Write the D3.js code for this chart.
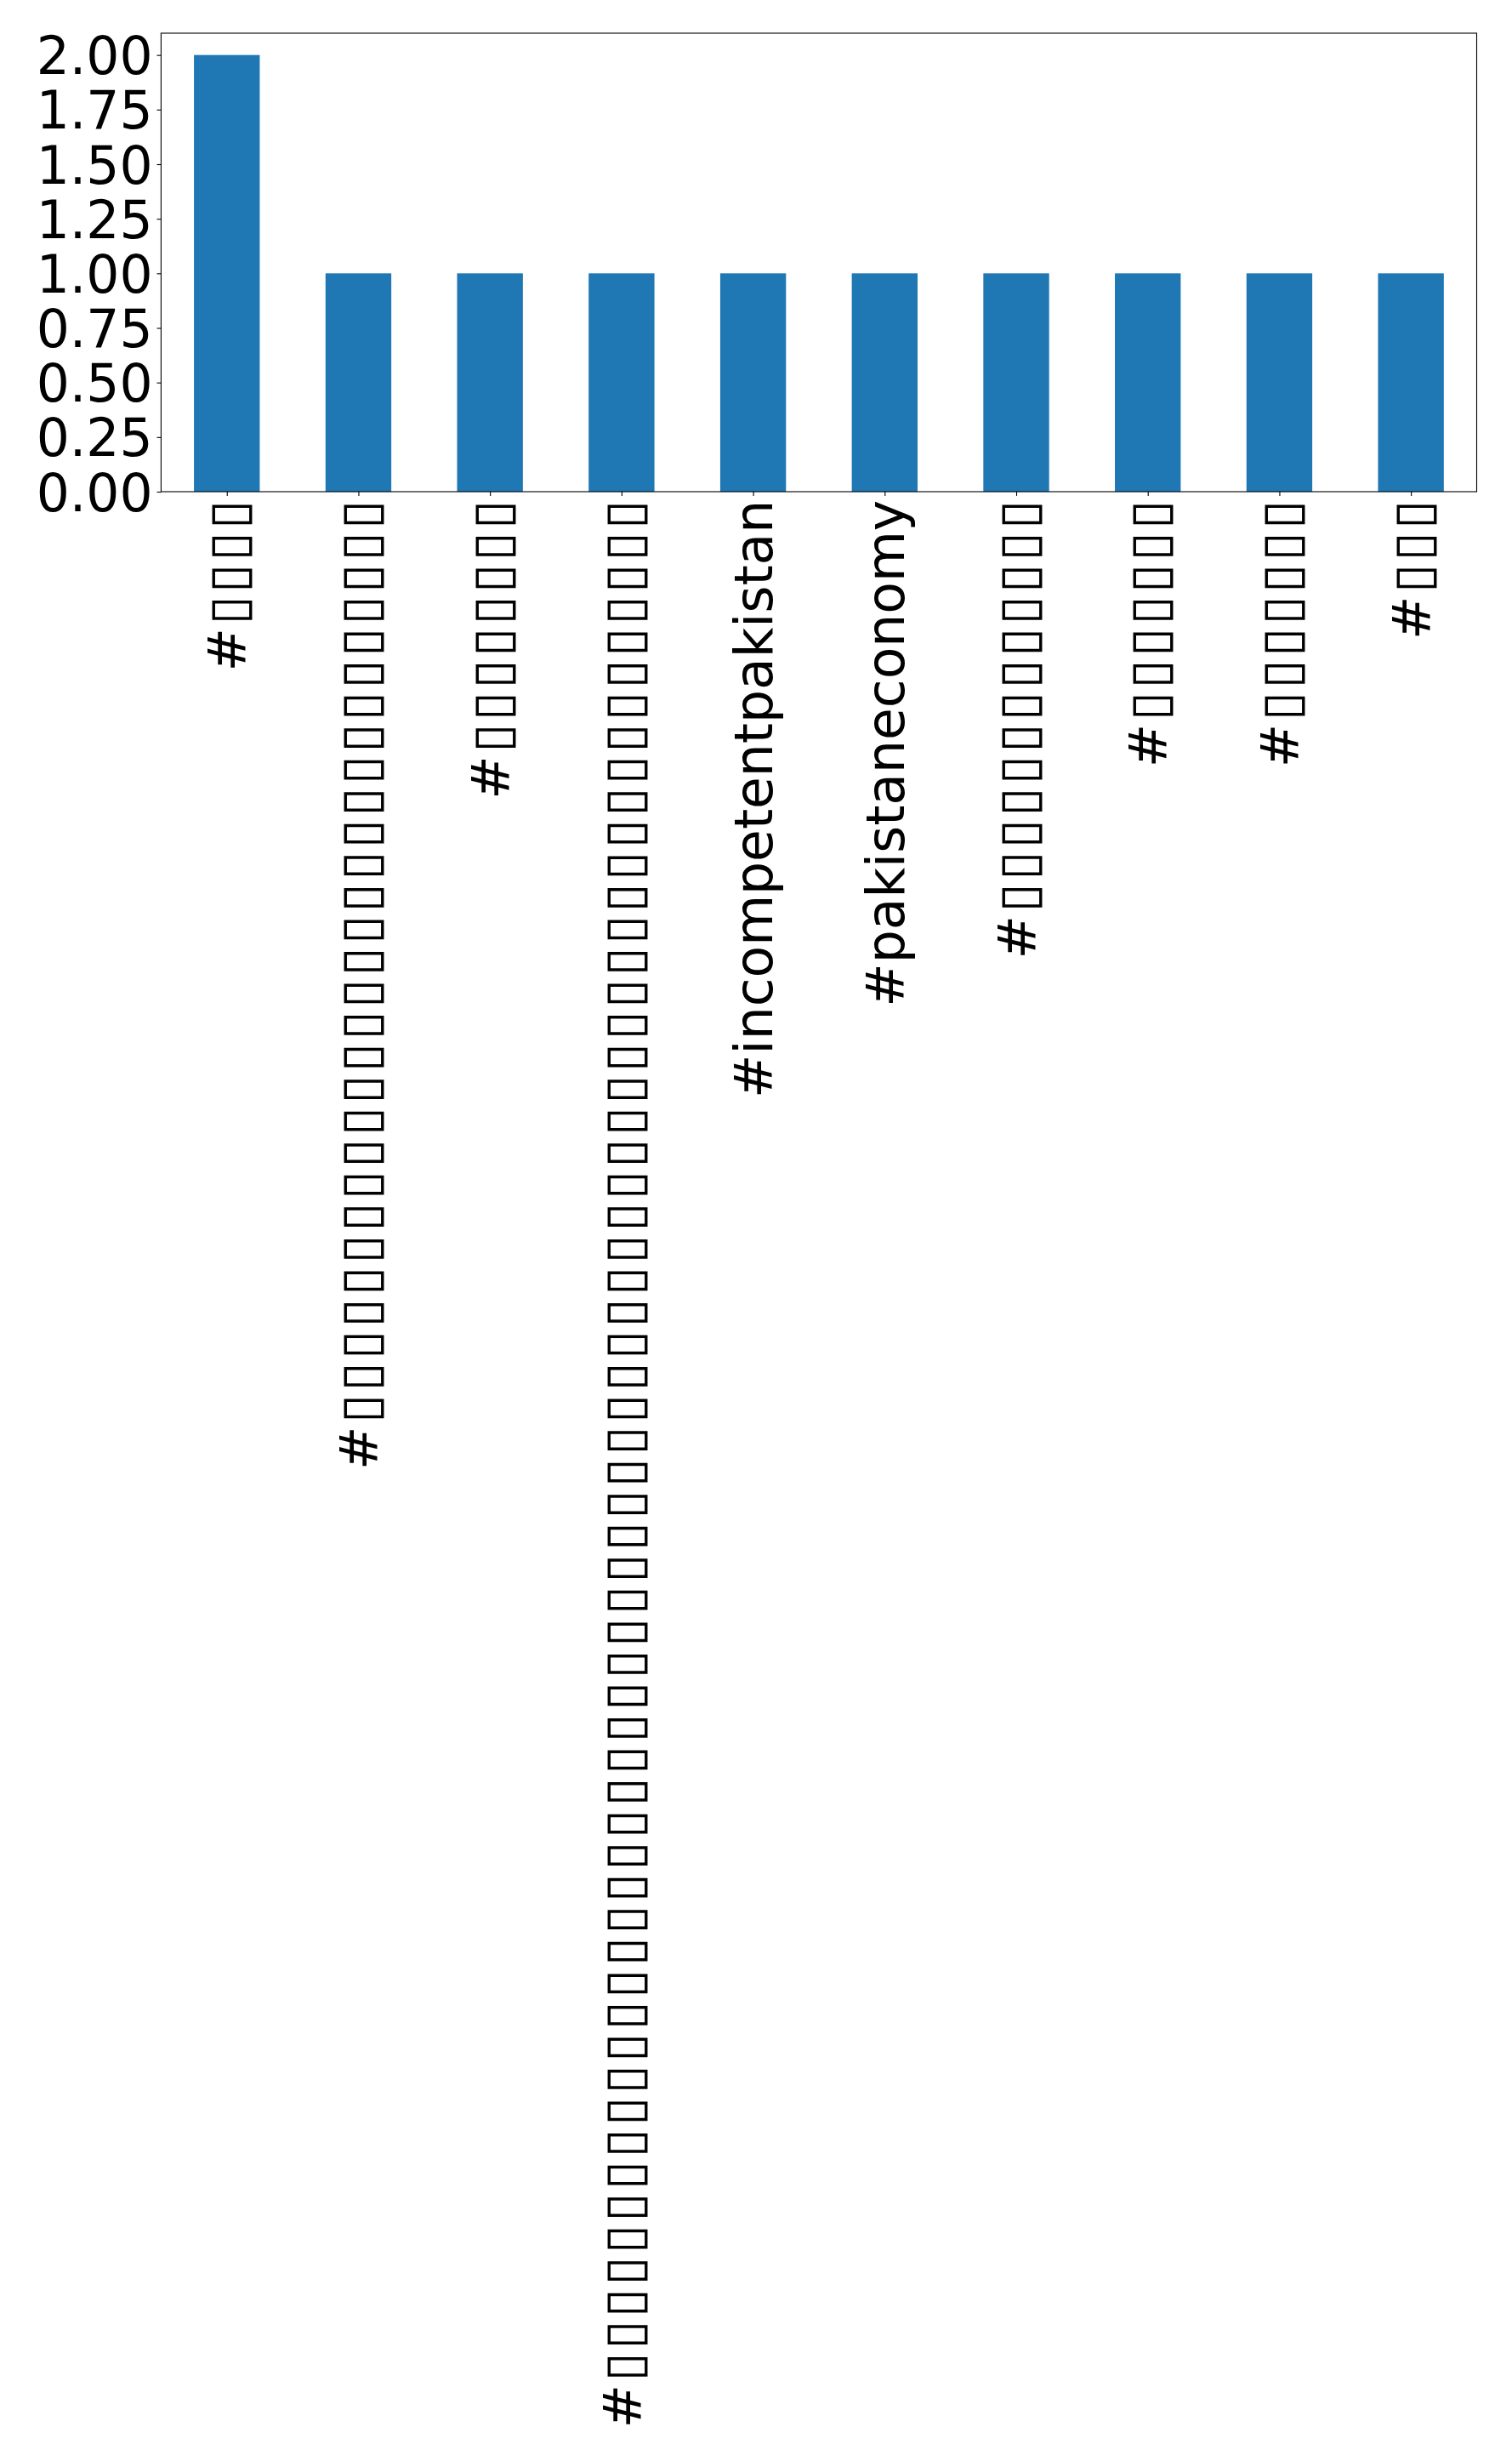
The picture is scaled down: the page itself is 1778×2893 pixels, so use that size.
<!DOCTYPE html>
<html>
<head>
<meta charset="utf-8">
<script src="https://cdn.jsdelivr.net/npm/d3@7"></script>
<style>
  html, body { margin: 0; padding: 0; background: #fff; }
  svg { display: block; font-family: "DejaVu Sans", sans-serif; }
</style>
</head>
<body>
<div id="chart"></div>
<script>
// hashtag counts; the Urdu tags came out as missing-glyph boxes in the source chart
const categories = [
  "#▯▯▯▯",
  "#▯▯▯▯▯▯▯▯▯▯▯▯▯▯▯▯▯▯▯▯▯▯▯▯▯▯▯▯▯",
  "#▯▯▯▯▯▯▯▯",
  "#▯▯▯▯▯▯▯▯▯▯▯▯▯▯▯▯▯▯▯▯▯▯▯▯▯▯▯▯▯▯▯▯▯▯▯▯▯▯▯▯▯▯▯▯▯▯▯▯▯▯▯▯▯▯▯▯▯▯▯",
  "#incompetentpakistan",
  "#pakistaneconomy",
  "#▯▯▯▯▯▯▯▯▯▯▯▯▯",
  "#▯▯▯▯▯▯▯",
  "#▯▯▯▯▯▯▯",
  "#▯▯▯"
]
const counts = [2, 1, 1, 1, 1, 1, 1, 1, 1, 1]
const yTicks = [0, 0.25, 0.5, 0.75, 1, 1.25, 1.5, 1.75, 2]

const W = 1778, H = 2893
const margin = { top: 39, right: 41.5, bottom: 2315, left: 189.4 }
const fontSize = 61.5
const tickLen = 4.9, tickPad = 4.9
// the missing-glyph boxes were a bit wider than the ▯ glyph
const boxSpacing = 3.7

const svg = d3.select("#chart").append("svg")
  .attr("width", W)
  .attr("height", H)

const x = d3.scaleBand()
  .domain(categories.map((c, i) => i))
  .range([margin.left, W - margin.right])
  .paddingInner(0.5)
  .paddingOuter(0.25)

const y = d3.scaleLinear()
  .domain([0, 2.1])
  .range([H - margin.bottom, margin.top])

// Bars
svg.selectAll(".bar")
  .data(counts)
  .enter()
  .append("rect")
  .attr("class", "bar")
  .attr("x", (d, i) => x(i))
  .attr("y", d => y(d))
  .attr("width", x.bandwidth())
  .attr("height", d => y(0) - y(d))
  .attr("fill", "#1f77b4")

// Y axis
const yAxis = svg.append("g")
  .attr("transform", `translate(${margin.left},0)`)
  .call(d3.axisLeft(y).tickValues(yTicks).tickFormat(d3.format(".2f"))
    .tickSize(tickLen).tickPadding(tickPad))
yAxis.select(".domain").remove()
yAxis.selectAll("line").attr("stroke", "#000").attr("stroke-width", 1.1)
yAxis.selectAll("text")
  .attr("font-family", "DejaVu Sans")
  .attr("font-size", fontSize)
  .attr("fill", "#000")
  .attr("dy", "0.36em")

// X axis
const xAxis = svg.append("g")
  .attr("transform", `translate(0,${y(0)})`)
  .call(d3.axisBottom(d3.scalePoint().domain(categories.map((c, i) => i))
      .range([x(0) + x.bandwidth() / 2, x(categories.length - 1) + x.bandwidth() / 2]))
    .tickFormat(i => categories[i]).tickSize(tickLen).tickPadding(tickPad))
xAxis.select(".domain").remove()
xAxis.selectAll("line").attr("stroke", "#000").attr("stroke-width", 1.1)
xAxis.selectAll("text")
  .attr("font-family", "DejaVu Sans")
  .attr("font-size", fontSize)
  .attr("fill", "#000")
  .attr("text-anchor", "end")
  .attr("transform", `translate(0,${tickLen + tickPad}) rotate(-90)`)
  .attr("x", i => categories[i].includes("▯") ? boxSpacing : 0)
  .attr("y", 0)
  .attr("dy", "0.36em")
  .attr("letter-spacing", i => categories[i].includes("▯") ? boxSpacing : 0)

// Frame
svg.append("rect")
  .attr("x", margin.left)
  .attr("y", margin.top)
  .attr("width", W - margin.right - margin.left)
  .attr("height", y(0) - margin.top)
  .attr("fill", "none")
  .attr("stroke", "#000")
  .attr("stroke-width", 1.1)
</script>
</body>
</html>
